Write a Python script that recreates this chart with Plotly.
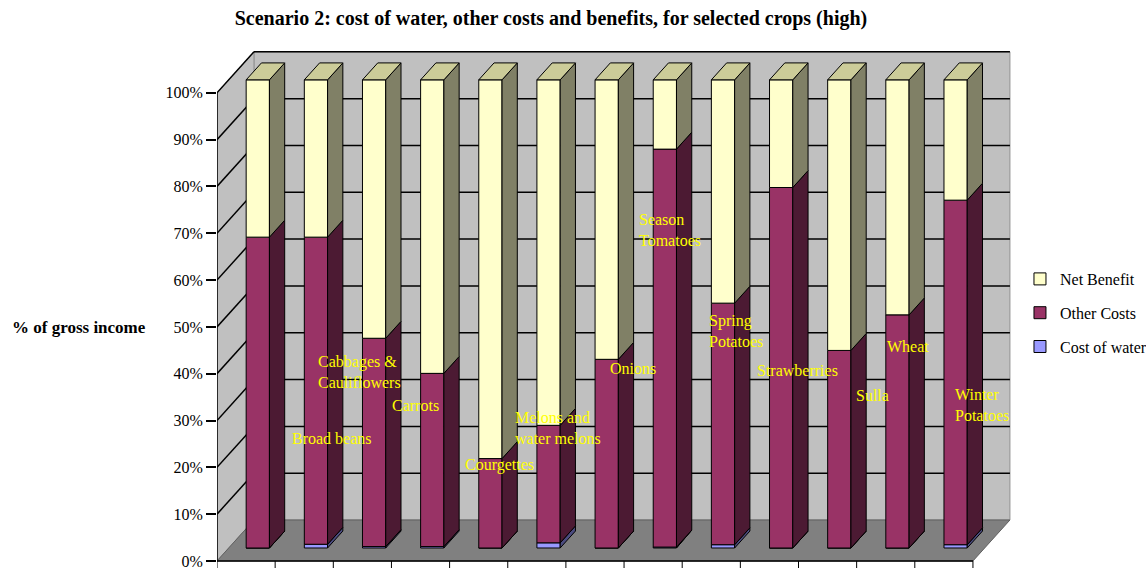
import plotly.graph_objects as go

# ---- data: share of gross income (%) for each crop ----
crops = ["Barley", "Broad beans", "Cabbages &<br>Cauliflowers", "Carrots", "Courgettes",
         "Melons and<br>water melons", "Onions", "Season<br>Tomatoes", "Spring<br>Potatoes",
         "Strawberries", "Sulla", "Wheat", "Winter<br>Potatoes"]
cost_of_water = [0.0, 0.8, 0.3, 0.3, 0.0, 1.1, 0.0, 0.2, 0.7, 0.0, 0.0, 0.0, 0.7]
other_costs = [66.4, 65.6, 44.5, 37.0, 19.1, 25.1, 40.3, 85.0, 51.6, 77.0, 42.2, 49.8, 73.6]
net_benefit = [33.6, 33.6, 55.2, 62.7, 80.9, 73.8, 59.7, 14.8, 47.7, 23.0, 57.8, 50.2, 25.7]
y_ticks = [0, 10, 20, 30, 40, 50, 60, 70, 80, 90, 100]
y_tick_labels = [f"{v}%" for v in y_ticks]

# positions of the yellow crop-name labels (x in category units, y in %)
label_x = [-0.03, 1.25, 1.70, 2.97, 4.23, 5.09, 6.72, 7.22, 8.43, 9.25, 10.95, 11.49, 12.66]
label_y = [15.2, 26.1, 40.3, 33.3, 20.5, 28.5, 41.1, 70.6, 49.2, 40.7, 35.4, 45.8, 33.3]

# ---- oblique 3-D geometry ----
N = len(crops)
DX, DY = 0.636, 8.75          # full floor depth in (category units, %)
F_FRONT, F_BACK = 0.317, 0.73  # bar front / back position within the depth
BAR_W = 0.4
ddx = (F_BACK - F_FRONT) * DX
ddy = (F_BACK - F_FRONT) * DY
base0 = F_FRONT * DY
xc = [i + 0.5 + F_FRONT * DX for i in range(N)]

FONT = "Liberation Serif"

series = [
    ("Cost of water", cost_of_water, "#9999FF", "#4C4C80"),
    ("Other Costs", other_costs, "#993366", "#4C1A33"),
    ("Net Benefit", net_benefit, "#FFFFCC", "#808066"),
]

fig = go.Figure()

# stacked front faces
cum = [0.0] * N
segments = []
for rank, (name, vals, front, side) in enumerate(series):
    bases = [base0 + c for c in cum]
    fig.add_trace(go.Bar(
        x=xc, y=vals, base=bases, width=BAR_W, name=name,
        marker=dict(color=front, line=dict(color="black", width=1)),
        legendgroup=name, legendrank=3 - rank, hoverinfo="skip",
    ))
    segments.append((bases, [b + v for b, v in zip(bases, vals)], side))
    cum = [c + v for c, v in zip(cum, vals)]

# right-hand side faces of every segment
for lo, hi, side in segments:
    px, py = [], []
    for i in range(N):
        xr = xc[i] + BAR_W / 2
        px += [xr, xr + ddx, xr + ddx, xr, xr, None]
        py += [lo[i], lo[i] + ddy, hi[i] + ddy, hi[i], lo[i], None]
    fig.add_trace(go.Scatter(x=px, y=py, mode="lines", fill="toself", fillcolor=side,
                             line=dict(color="black", width=1), showlegend=False,
                             hoverinfo="skip"))

# top faces of the stacks
tx, ty = [], []
top = segments[-1][1]
for i in range(N):
    xl, xr = xc[i] - BAR_W / 2, xc[i] + BAR_W / 2
    tx += [xl, xr, xr + ddx, xl + ddx, xl, None]
    ty += [top[i], top[i], top[i] + ddy, top[i] + ddy, top[i], None]
fig.add_trace(go.Scatter(x=tx, y=ty, mode="lines", fill="toself", fillcolor="#CCCC99",
                         line=dict(color="black", width=1), showlegend=False,
                         hoverinfo="skip"))

# ---- walls, floor and gridlines ----
shapes = []
wall = "#C0C0C0"
shapes.append(dict(type="rect", x0=DX, x1=N + DX, y0=DY, y1=100 + DY, fillcolor=wall,
                   line=dict(color="#909090", width=1), layer="below"))
shapes.append(dict(type="path", path=f"M0,0 L{DX},{DY} L{DX},{100 + DY} L0,100 Z",
                   fillcolor=wall, line=dict(color="#909090", width=1), layer="below"))
shapes.append(dict(type="path", path=f"M0,0 L{N},0 L{N + DX},{DY} L{DX},{DY} Z",
                   fillcolor="#808080", line=dict(color="#606060", width=1), layer="below"))
for v in y_ticks[1:]:
    shapes.append(dict(type="line", x0=DX, x1=N + DX, y0=v + DY, y1=v + DY,
                       line=dict(color="black", width=1.5), layer="below"))
    shapes.append(dict(type="line", x0=0, x1=DX, y0=v, y1=v + DY,
                       line=dict(color="black", width=1.5), layer="below"))
# front axis line, floor front edge and category ticks
shapes.append(dict(type="line", x0=0, x1=0, y0=0, y1=100, line=dict(color="black", width=1.5)))
shapes.append(dict(type="line", x0=0, x1=N, y0=0, y1=0, line=dict(color="black", width=1.5)))
for k in range(N + 1):
    shapes.append(dict(type="line", x0=k, x1=k, y0=0, y1=-1.5,
                       line=dict(color="black", width=1)))

annotations = []
for name, lx, ly in zip(crops, label_x, label_y):
    annotations.append(dict(x=lx, y=ly, xref="x", yref="y", text=name, showarrow=False,
                            xanchor="left", yanchor="middle", align="left",
                            font=dict(family=FONT, size=16, color="#FFFF00")))
annotations.append(dict(x=-0.2597, y=0.4598, xref="paper", yref="paper",
                        text="<b>% of gross income</b>", showarrow=False,
                        xanchor="left", yanchor="middle",
                        font=dict(family=FONT, size=17, color="black")))

fig.update_layout(
    width=1146, height=568,
    margin=dict(l=217, r=132, t=46, b=0, autoexpand=False),
    paper_bgcolor="white", plot_bgcolor="white",
    barmode="overlay",
    title=dict(text="<b>Scenario 2: cost of water, other costs and benefits, for selected crops (high)</b>",
               x=551 / 1146, xref="container", xanchor="center",
               y=1 - 18 / 568, yref="container", yanchor="middle",
               font=dict(family=FONT, size=20, color="black")),
    xaxis=dict(range=[0, 797 / 58.15], visible=False, fixedrange=True),
    yaxis=dict(range=[-1.5, 110], tickvals=y_ticks, ticktext=y_tick_labels,
               ticks="outside", ticklen=10, tickcolor="black", tickwidth=1.5,
               showgrid=False, zeroline=False, showline=False, automargin=False,
               ticklabeloverflow="allow",
               tickfont=dict(family=FONT, size=16, color="black"), fixedrange=True),
    legend=dict(x=1.0075, xanchor="left", y=0.4885, yanchor="middle",
                font=dict(family=FONT, size=16, color="black"),
                tracegroupgap=10, bgcolor="rgba(0,0,0,0)"),
    shapes=shapes, annotations=annotations,
    showlegend=True,
)

fig.write_html("out.html")
